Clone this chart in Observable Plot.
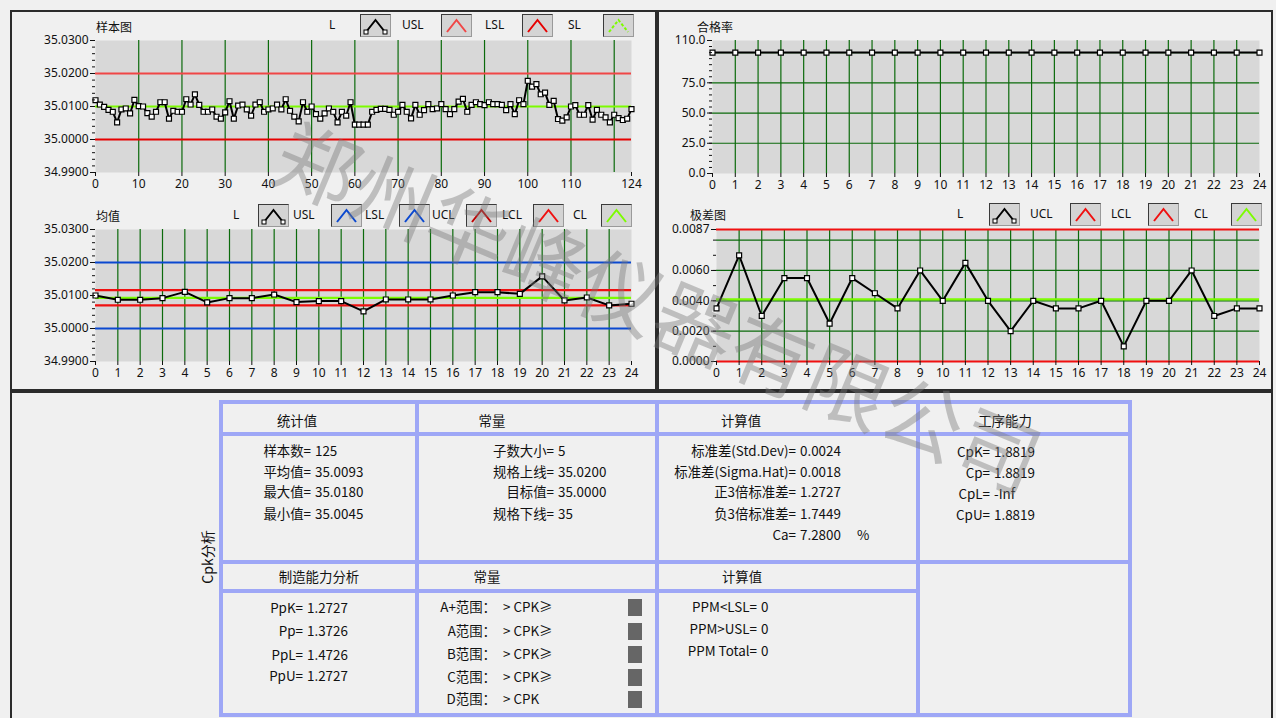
<!DOCTYPE html>
<html><head><meta charset="utf-8">
<script src="https://cdn.jsdelivr.net/npm/d3@7"></script>
<script src="https://cdn.jsdelivr.net/npm/@observablehq/plot@0.6"></script>
<style>
body{margin:0;background:#f0f0f0;font-family:"Noto Sans CJK SC","Noto Sans",sans-serif;}
#root{position:relative;width:1276px;height:718px;overflow:hidden;background:#f0f0f0;}
.abs{position:absolute;white-space:nowrap;line-height:1;}
.panel{position:absolute;box-sizing:border-box;border:2px solid #2b2b2b;}
.sw{position:absolute;width:31px;height:23px;box-sizing:border-box;background:#d4d4d4;border:1px solid #3a3a3a;border-right-color:#9a9a9a;border-bottom-color:#9a9a9a}
.ln{position:absolute;background:#9ea7f6;}
</style></head><body><div id="root"></div>
<script>
// ---------- data ----------
const sampleValues = [
35.0119,35.0106,35.0099,35.0090,35.0084,35.0052,35.0091,35.0094,35.0079,35.0120,
35.0101,35.0100,35.0080,35.0069,35.0084,35.0113,35.0113,35.0063,35.0087,35.0084,
35.0084,35.0122,35.0106,35.0137,35.0105,35.0084,35.0084,35.0091,35.0069,35.0063,
35.0082,35.0116,35.0063,35.0103,35.0106,35.0091,35.0072,35.0106,35.0113,35.0084,
35.0091,35.0094,35.0106,35.0091,35.0122,35.0087,35.0069,35.0055,35.0113,35.0084,
35.0100,35.0077,35.0063,35.0079,35.0094,35.0084,35.0052,35.0084,35.0072,35.0113,
35.0045,35.0045,35.0045,35.0045,35.0084,35.0090,35.0093,35.0093,35.0090,35.0075,
35.0084,35.0105,35.0084,35.0064,35.0105,35.0075,35.0089,35.0107,35.0092,35.0094,
35.0107,35.0092,35.0077,35.0092,35.0115,35.0123,35.0084,35.0105,35.0113,35.0107,
35.0104,35.0113,35.0107,35.0107,35.0105,35.0089,35.0107,35.0077,35.0119,35.0107,
35.0178,35.0160,35.0168,35.0137,35.0142,35.0105,35.0117,35.0062,35.0057,35.0067,
35.0100,35.0104,35.0075,35.0075,35.0104,35.0060,35.0090,35.0075,35.0067,35.0052,
35.0075,35.0065,35.0059,35.0063,35.0092];
const meanValues = [35.0100,35.0087,35.0087,35.0092,35.0111,35.0079,35.0092,35.0092,35.0103,35.0080,
35.0083,35.0083,35.0052,35.0088,35.0088,35.0088,35.0100,35.0110,35.0110,35.0105,
35.0158,35.0085,35.0094,35.0070,35.0075];
const rangeValues = [0.0035,0.0070,0.0030,0.0055,0.0055,0.0025,0.0055,0.0045,0.0035,0.0060,
0.0040,0.0065,0.0040,0.0020,0.0040,0.0035,0.0035,0.0040,0.0010,0.0040,
0.0040,0.0060,0.0030,0.0035,0.0035];
const passRate = [100,100,100,100,100,100,100,100,100,100,100,100,100,100,100,100,100,100,100,100,100,100,100,100,100];
const specUSL = 35.02, specLSL = 35.00, specSL = 35.0100;
const meanUCL = 35.0116, meanLCL = 35.0070, meanCL = 35.0093;
const rangeUCL = 0.0087, rangeLCL = 0, rangeCL = 0.0041;
const sampleXTicks = [0,10,20,30,40,50,60,70,80,90,100,110,124];
const groupXTicks = d3.range(0,25);
const specYTicks = [34.99,35.00,35.01,35.02,35.03];
const passYTicks = [0,25,50,75,110];
const rangeYTicks = [0,0.002,0.004,0.006,0.0087];

const root = document.getElementById("root");
function el(cls, css, text){const d=document.createElement("div");d.className=cls;Object.assign(d.style,css);if(text!=null)d.textContent=text;root.appendChild(d);return d;}
function txt(s,x,y,o={}){
  const a=o.anchor||"start";
  const tx=a==="start"?"0":a==="middle"?"-50%":"-100%";
  return el("abs",{left:x+"px",top:y+"px",fontSize:(o.size||13.4)+"px",color:o.color||"#111",transform:`translate(${tx},-50%)`+(o.rot?` rotate(${o.rot}deg)`:""),fontFamily:o.family||'"Noto Sans CJK SC","Noto Sans",sans-serif'},s);
}

// panels
el("panel",{left:"10px",top:"10px",width:"647px",height:"381px"});
el("panel",{left:"657px",top:"10px",width:"616px",height:"381px"});
el("panel",{left:"10px",top:"391px",width:"1263px",height:"330px"});

const GREEN="#0b6a0b";
function chart(o){
  const pts=o.values.map((v,i)=>({i,v}));
  const marks=[Plot.frame({fill:"#d8d8d8"})];
  if(o.yGrid) marks.push(Plot.ruleY(o.yGrid,{stroke:GREEN,strokeWidth:1.2}));
  if(o.xGrid) marks.push(Plot.ruleX(o.xGrid,{stroke:GREEN,strokeWidth:1.2}));
  for(const r of (o.refs||[])) marks.push(Plot.ruleY([r.value],{stroke:r.color,strokeWidth:2.2}));
  marks.push(Plot.line(pts,{x:"i",y:"v",stroke:"#000",strokeWidth:2}));
  marks.push(Plot.dot(pts,{x:"i",y:"v",symbol:"square",r:2.8,fill:"#fff",stroke:"#000",strokeWidth:1.2}));
  marks.push(Plot.axisY({ticks:o.yMinor,tickSize:3,tickFormat:()=>"",anchor:"left",label:null}));
  marks.push(Plot.axisY({ticks:o.yTicks,tickSize:5,tickPadding:2,tickFormat:o.yFmt,anchor:"left",label:null}));
  marks.push(Plot.axisX({ticks:o.xTicks,tickSize:4,tickPadding:3,tickFormat:d3.format("d"),anchor:"bottom",label:null}));
  const svg=Plot.plot({width:o.w,height:o.h,marginLeft:o.ml,marginRight:o.mr,marginTop:o.mt,marginBottom:o.mb,
    x:{domain:o.xDomain,axis:null},y:{domain:o.yDomain,axis:null},
    style:{background:"transparent",fontFamily:'"Noto Sans",sans-serif',fontSize:"12px",color:"#111",overflow:"visible"},
    marks});
  svg.style.position="absolute";svg.style.left=o.left+"px";svg.style.top=o.top+"px";
  root.appendChild(svg);
}

chart({left:12,top:32,w:640,h:170,ml:83,mr:21,mt:8,mb:30,xDomain:[0,124],yDomain:[34.99,35.03],
  values:sampleValues,xGrid:d3.range(10,124,10),yTicks:specYTicks,yMinor:d3.range(0,21).map(k=>34.99+k*0.002),yFmt:d3.format(".4f"),
  xTicks:sampleXTicks,refs:[{value:specUSL,color:"#f04646"},{value:specLSL,color:"#e60000"},{value:specSL,color:"#7cfc00"}]});
chart({left:12,top:221,w:640,h:170,ml:83,mr:21,mt:8,mb:30,xDomain:[0,24],yDomain:[34.99,35.03],
  values:meanValues,xGrid:d3.range(1,24),yTicks:specYTicks,yMinor:d3.range(0,21).map(k=>34.99+k*0.002),yFmt:d3.format(".4f"),
  xTicks:groupXTicks,refs:[{value:specUSL,color:"#0a48d0"},{value:specLSL,color:"#0a48d0"},{value:meanCL,color:"#7cfc00"},{value:meanUCL,color:"#f01010"},{value:meanLCL,color:"#f01010"}]});
chart({left:660,top:32,w:610,h:170,ml:52,mr:11,mt:8,mb:29,xDomain:[0,24],yDomain:[0,110],
  values:passRate,xGrid:d3.range(1,24),yGrid:[25,50,75,100],yTicks:passYTicks,yMinor:d3.range(0,111,5),yFmt:d3.format(".1f"),
  xTicks:groupXTicks,refs:[]});
chart({left:660,top:221,w:610,h:170,ml:56,mr:11,mt:8,mb:30,xDomain:[0,24],yDomain:[0,0.0087],
  values:rangeValues,xGrid:d3.range(1,24),yGrid:[0.002,0.004,0.006,0.008],yTicks:rangeYTicks,yMinor:d3.range(0,9).map(k=>k*0.001),yFmt:d3.format(".4f"),
  xTicks:groupXTicks,refs:[{value:rangeCL,color:"#7cfc00"},{value:rangeUCL,color:"#f01010"},{value:rangeLCL,color:"#f01010"}]});

// titles
txt("样本图",96,27,{size:12});
txt("均值",96,216,{size:12});
txt("合格率",697,27,{size:12});
txt("极差图",690,215,{size:12});

// legends
function swatch(x,top,color,kind){
  const d=el("sw",{left:x+"px",top:top+"px"});
  let inner=`<svg width="29" height="21" style="position:absolute;left:0;top:0">`;
  const dash=kind==="dash"?' stroke-dasharray="3,2"':'';
  inner+=`<polyline points="5,17 14.5,5 24,17" fill="none" stroke="${color}" stroke-width="2"${dash}/>`;
  if(kind==="dots") inner+=`<rect x="3" y="15" width="4" height="4" fill="#fff" stroke="#000"/><rect x="22" y="15" width="4" height="4" fill="#fff" stroke="#000"/>`;
  inner+=`</svg>`;
  d.innerHTML=inner;
}
function legend(top,items){
  for(const it of items){
    if(it.t) txt(it.t,it.x,top+11,{size:12,family:'"Noto Sans",sans-serif'});
    else swatch(it.x,top,it.c,it.k);
  }
}
legend(14,[{t:"L",x:329},{x:360,c:"#000",k:"dots"},{t:"USL",x:402},{x:441,c:"#f04646"},{t:"LSL",x:485},{x:522,c:"#e60000"},{t:"SL",x:568},{x:603,c:"#7cfc00",k:"dash"}]);
legend(204,[{t:"L",x:233},{x:258,c:"#000",k:"dots"},{t:"USL",x:293},{x:331,c:"#0a48d0"},{t:"LSL",x:365},{x:399,c:"#0a48d0"},{t:"UCL",x:432},{x:466,c:"#c00000"},{t:"LCL",x:502},{x:533,c:"#f01010"},{t:"CL",x:573},{x:601,c:"#7cfc00"}]);
legend(203,[{t:"L",x:957},{x:989,c:"#000",k:"dots"},{t:"UCL",x:1030},{x:1070,c:"#f01010"},{t:"LCL",x:1111},{x:1148,c:"#f01010"},{t:"CL",x:1194},{x:1231,c:"#7cfc00"}]);

// ---------- table ----------
function hl(x1,x2,y){el("ln",{left:x1+"px",top:(y-2)+"px",width:(x2-x1)+"px",height:"4px"});}
function vl(x,y1,y2){el("ln",{left:(x-2)+"px",top:y1+"px",width:"4px",height:(y2-y1)+"px"});}
hl(219,1132,402);hl(219,1132,715);hl(219,1132,434);hl(219,1132,562);hl(219,918,591);
vl(221,400,717);vl(1130,400,717);vl(417,400,717);vl(657,400,717);vl(918,400,717);

const headers1=[["统计值",297],["常量",492],["计算值",741],["工序能力",1005]];
headers1.forEach(([s,x])=>txt(s,x,421,{anchor:"middle"}));
const headers2=[["制造能力分析",319],["常量",487],["计算值",742]];
headers2.forEach(([s,x])=>txt(s,x,577,{anchor:"middle"}));

function kv(rows,xr,gap){rows.forEach(([k,v,y])=>{txt(k,xr,y,{anchor:"end"});txt(v,xr+gap,y);});}
kv([["样本数=","125",451],["平均值=","35.0093",472],["最大值=","35.0180",492],["最小值=","35.0045",514]],311,4);
kv([["子数大小=","5",451],["规格上线=","35.0200",472],["目标值=","35.0000",492],["规格下线=","35",514]],554,4);
kv([["标准差(Std.Dev)=","0.0024",451],["标准差(Sigma.Hat)=","0.0018",472],["正3倍标准差=","1.2727",492],["负3倍标准差=","1.7449",514],["Ca=","7.2800",535]],796,4);
txt("%",857,535);
kv([["CpK=","1.8819",452],["Cp=","1.8819",473],["CpL=","-Inf",494],["CpU=","1.8819",515]],990,4);
kv([["PpK=","1.2727",608],["Pp=","1.3726",631],["PpL=","1.4726",655],["PpU=","1.2727",676]],303,4);
const grades=[["A+范围：","> CPK≥",607],["A范围：","> CPK≥",631],["B范围：","> CPK≥",654],["C范围：","> CPK≥",677],["D范围：","> CPK",699]];
grades.forEach(([k,v,y])=>{txt(k,496,y,{anchor:"end"});txt(v,503,y);el("abs",{left:"628px",top:(y-8)+"px",width:"14px",height:"17px",background:"#666"});});
kv([["PPM<LSL=","0",607],["PPM>USL=","0",629],["PPM Total=","0",651]],757,4);
txt("Cpk分析",207,557,{anchor:"middle",size:14,rot:-90});

// watermark
const wm=document.createElementNS("http://www.w3.org/2000/svg","svg");
wm.setAttribute("width",1276);wm.setAttribute("height",718);
Object.assign(wm.style,{position:"absolute",left:"0",top:"0",pointerEvents:"none"});
wm.innerHTML=`<text x="660" y="304" text-anchor="middle" dominant-baseline="central" transform="rotate(22.7 660 304)" font-family="Noto Sans CJK SC" font-size="82" fill="#7a7a7a" fill-opacity="0.42">郑州华峰仪器有限公司</text>`;
root.appendChild(wm);
</script></body></html>
